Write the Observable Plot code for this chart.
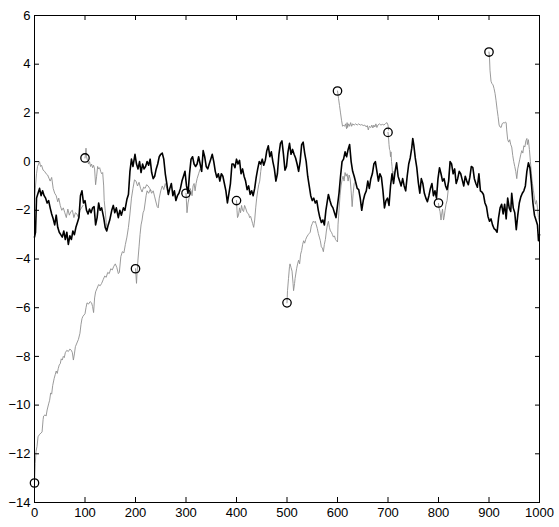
<!DOCTYPE html>
<html>
<head>
<meta charset="utf-8">
<script src="https://cdn.jsdelivr.net/npm/d3@7"></script>
<script src="https://cdn.jsdelivr.net/npm/@observablehq/plot@0.6"></script>
<style>
  html, body { margin: 0; padding: 0; background: white; }
</style>
</head>
<body>
<div id="chart"></div>
<script>
// Tick values
const xTicks = [0, 100, 200, 300, 400, 500, 600, 700, 800, 900, 1000];
const yTicks = [-14, -12, -10, -8, -6, -4, -2, 0, 2, 4, 6];

// Restart points (circles)
const circleX = [0, 100, 200, 300, 400, 500, 600, 700, 800, 900];
const circleY = [-13.2, 0.15, -4.4, -1.3, -1.6, -5.8, 2.9, 1.2, -1.7, 4.5];

// Main (black) series: [step, value]
const blackSeries = [
[0,-3.1],[2,-2.9],[4,-1.5],[7,-1.3],[10,-1.1],[13,-1.4],[16,-1.2],[19,-1.4],[22,-1.5],[25,-1.7],
[28,-1.6],[31,-1.9],[34,-2.15],[37,-2.35],[40,-2.6],[43,-2.2],[46,-2.7],[49,-2.9],[52,-3.0],[55,-3.1],
[58,-2.85],[61,-3.2],[64,-2.9],[67,-3.4],[70,-3.05],[73,-3.2],[76,-2.85],[79,-3.0],[82,-2.7],[85,-2.5],
[88,-2.3],[91,-1.4],[94,-1.2],[97,-1.7],[100,-1.6],[103,-2.0],[106,-2.15],[109,-1.95],[112,-2.1],[115,-1.9],
[118,-1.85],[121,-2.6],[124,-2.3],[127,-1.7],[130,-2.0],[133,-1.9],[137,-2.3],[140,-2.7],[143,-2.85],[146,-2.6],
[149,-2.4],[153,-2.0],[156,-1.8],[159,-2.1],[162,-1.9],[166,-2.3],[169,-2.0],[172,-2.2],[176,-1.9],[179,-2.0],
[183,-1.55],[186,-1.35],[189,-0.4],[192,0.1],[195,-0.2],[199,0.3],[202,-0.1],[205,-0.3],[208,0.0],[211,-0.45],
[214,-0.1],[217,-0.3],[220,-0.2],[223,0.0],[226,-0.15],[229,0.1],[232,-0.45],[235,-0.7],[238,-0.6],[241,-0.3],
[244,-0.1],[247,0.2],[250,0.3],[253,0.35],[256,0.1],[259,-0.5],[262,-0.9],[265,-1.35],[268,-1.1],[271,-0.9],
[274,-1.4],[277,-1.2],[280,-1.6],[283,-1.4],[286,-1.3],[289,-1.1],[292,-0.8],[295,-0.6],[298,-0.4],[301,-1.0],
[304,-1.3],[307,-0.5],[310,0.1],[313,0.2],[316,-0.1],[319,-0.2],[322,-0.1],[325,0.2],[328,-0.1],[331,-0.4],
[334,0.45],[337,0.2],[340,-0.2],[343,-0.3],[346,-0.1],[349,0.1],[352,0.3],[355,0.0],[358,-0.4],[361,-0.65],
[364,-0.5],[367,-0.8],[370,-0.5],[373,-0.6],[376,-0.9],[379,-1.2],[382,-1.7],[385,-1.3],[388,-0.9],[391,-0.1],
[394,-0.1],[397,-0.25],[400,0.1],[403,-0.1],[406,0.05],[409,-0.5],[412,-0.3],[415,-0.6],[418,-0.8],[421,-1.15],
[424,-1.0],[427,-1.35],[430,-1.2],[433,-1.4],[436,-1.1],[439,-0.65],[442,-0.3],[445,0.0],[448,-0.1],[451,0.1],
[454,-0.15],[457,0.05],[460,0.45],[463,0.65],[466,0.2],[469,0.4],[472,0.0],[475,-0.3],[478,-0.8],[481,-0.5],
[484,0.3],[487,0.75],[490,0.85],[493,0.3],[496,-0.35],[499,-0.2],[502,0.4],[505,0.75],[508,0.3],[511,0.5],
[514,0.3],[517,0.15],[520,-0.1],[523,-0.4],[526,0.0],[529,0.7],[532,0.8],[535,0.35],[538,0.0],[541,-0.6],
[544,-1.0],[547,-1.4],[550,-1.6],[553,-1.5],[556,-1.7],[559,-1.6],[562,-2.0],[565,-2.3],[568,-2.5],[571,-2.4],
[574,-2.6],[577,-2.0],[580,-1.6],[582,-1.35],[585,-1.6],[588,-1.8],[591,-1.9],[594,-2.1],[597,-2.3],[600,-1.8],
[603,-1.3],[606,-0.6],[609,0.0],[612,0.1],[615,0.4],[618,0.2],[621,0.5],[624,0.7],[627,0.0],[630,-0.4],
[633,-0.6],[636,-0.85],[639,-1.1],[642,-1.15],[645,-1.5],[648,-2.0],[651,-1.6],[654,-1.35],[657,-1.2],[660,-0.8],
[663,-1.1],[666,-0.7],[669,-0.5],[672,-0.1],[675,0.0],[678,-0.4],[681,-0.8],[684,-0.5],[687,-0.65],[690,-1.2],
[693,-1.9],[696,-1.6],[699,-1.5],[702,-1.8],[705,-1.0],[708,-0.5],[711,-0.9],[714,-0.4],[717,-0.05],[720,-0.6],
[723,-0.8],[726,-1.0],[729,-0.7],[732,-1.0],[735,-1.2],[738,-0.6],[741,-0.1],[744,0.15],[747,0.55],[749,0.95],
[751,0.7],[754,0.15],[757,-0.25],[760,-0.85],[763,-1.3],[766,-0.7],[769,-0.9],[772,-1.3],[775,-1.5],[778,-1.65],
[781,-1.4],[784,-1.1],[787,-0.9],[790,-1.4],[793,-1.2],[796,-1.5],[799,-0.7],[802,-0.25],[805,-0.5],[808,-0.8],
[811,-0.7],[814,-1.0],[817,-1.15],[820,-0.8],[823,0.0],[826,-0.1],[829,-0.5],[832,-0.3],[835,-0.9],[838,-0.7],
[841,-0.4],[844,-0.5],[847,-0.75],[850,-1.0],[853,-0.6],[856,-0.8],[859,-0.95],[862,-0.65],[865,-0.2],[868,-0.25],
[871,-0.7],[874,-0.9],[877,-1.05],[880,-0.5],[883,-1.2],[886,-1.25],[889,-1.35],[892,-1.7],[895,-1.85],[898,-2.25],
[901,-2.45],[904,-2.35],[907,-2.6],[910,-2.75],[913,-2.8],[916,-2.9],[919,-2.3],[922,-1.9],[925,-1.75],[928,-2.15],
[931,-1.75],[934,-2.35],[937,-1.5],[940,-1.9],[943,-2.05],[945,-1.3],[948,-1.9],[951,-2.1],[954,-2.8],[957,-2.2],
[960,-1.7],[963,-1.45],[966,-1.3],[969,-1.2],[972,-1.0],[975,-0.4],[978,-0.05],[981,-0.25],[984,-0.9],[987,-1.7],
[990,-2.2],[993,-2.4],[996,-2.6],[998,-3.25],[1000,-3.0]
];

// Gray restarted trajectories: [step, value]
const grayPre = [[0,-1.7],[2,-1.0],[4,-0.5],[6,-0.2],[8,-0.1],[10,0.0],[12,-0.2],[14,-0.15],[17,-0.35],[20,-0.4],[23,-0.5],[26,-0.55],[29,-0.7],[31,-0.8],[34,-0.65],[37,-1.1],[40,-1.3],[43,-1.4],[46,-1.65],[48,-1.5],[51,-1.8],[54,-2.0],[57,-1.9],[60,-2.1],[63,-2.3],[66,-1.95],[69,-2.2],[72,-2.05],[75,-2.0],[78,-2.3],[81,-2.1],[84,-2.15],[87,-2.3],[90,-2.0],[93,-1.9],[96,-1.8]];
const gray0 = [[0,-13.2],[1.5,-12.4],[3,-11.9],[5,-11.7],[7,-11.3],[10,-11.2],[13,-11.15],[15,-11.1],[17,-10.6],[18,-10.45],[21,-10.4],[23,-10.45],[25,-10.2],[28,-9.95],[30,-9.8],[32,-9.5],[34,-9.55],[36,-9.2],[39,-8.9],[41,-8.75],[43,-8.6],[45,-8.7],[47,-8.5],[49,-8.35],[51,-8.3],[53,-8.1],[55,-8.15],[57,-8.0],[59,-8.05],[61,-7.85],[64,-7.75],[67,-7.8],[70,-7.7],[73,-7.75],[75,-7.85],[77,-8.15],[79,-7.9],[81,-7.6],[84,-7.45],[87,-7.3],[90,-7.05],[92,-6.7],[94,-6.45],[96,-6.35],[98,-6.3],[100,-6.25],[102,-6.0],[104,-5.8],[107,-5.85],[110,-5.75],[113,-5.8],[115,-5.95],[117,-6.2],[119,-5.6],[121,-5.35],[124,-5.2],[127,-5.05],[130,-5.1],[133,-5.0],[136,-4.85],[139,-4.7],[142,-4.75],[145,-4.55],[148,-4.6],[151,-4.4],[154,-4.45],[157,-4.3],[160,-4.2],[163,-4.35],[166,-4.6],[168,-4.55],[171,-3.9],[174,-3.7],[177,-3.75],[180,-3.4],[183,-3.1],[186,-2.7],[189,-2.15],[192,-1.5],[195,-1.1],[198,-0.75],[201,-0.8],[204,-1.0],[207,-0.85],[210,-1.1],[213,-1.25],[216,-1.05],[219,-1.1],[222,-0.95],[225,-1.0],[228,-1.1],[231,-1.2]];
const gray100 = [[100,0.15],[101,0.3],[102,0.55],[103,0.2],[105,0.05],[107,-0.1],[109,0.0],[111,-0.2],[113,-0.1],[115,-0.25],[117,-0.15],[119,-0.3],[121,-0.95],[123,-0.6],[125,-0.2],[127,-0.3],[129,-0.25],[131,-0.4],[133,-0.5],[135,-0.45],[137,-1.0],[138,-1.6],[140,-2.0],[142,-2.5],[144,-2.8]];
const gray200 = [[200,-4.4],[201,-4.7],[202,-5.0],[203,-4.6],[205,-4.0],[207,-3.5],[209,-3.0],[211,-2.6],[213,-2.4],[215,-2.1],[217,-2.0],[219,-1.7],[221,-1.4],[223,-1.2],[226,-1.3],[229,-1.15],[232,-1.3],[235,-1.2],[238,-1.45],[241,-1.7],[243,-1.85],[245,-1.9],[247,-1.5],[250,-1.2],[253,-1.0],[256,-1.15],[259,-0.9],[262,-1.1],[265,-1.35]];
const gray300 = [[300,-1.3],[301,-1.7],[302,-2.1],[304,-1.7],[306,-1.5],[308,-1.1],[310,-1.2],[312,-1.4],[314,-1.0],[316,-0.9],[318,-1.2],[320,-0.9],[322,-0.7],[325,-0.5],[328,-0.3],[331,-0.4]];
const gray400 = [[400,-1.6],[401,-2.0],[402,-2.3],[404,-2.2],[406,-1.9],[408,-2.1],[410,-1.8],[412,-2.0],[414,-2.05],[416,-1.8],[418,-1.9],[421,-2.1],[424,-2.15],[426,-2.3],[428,-2.25],[430,-2.4],[432,-2.55],[434,-2.7],[436,-2.4],[438,-1.9],[440,-1.5],[442,-1.2],[444,-0.95],[446,-0.8],[448,-0.4],[450,-0.1],[452,0.0]];
const gray500 = [[500,-5.8],[501,-5.3],[503,-4.8],[505,-4.3],[506,-4.2],[508,-4.35],[510,-4.5],[512,-5.0],[513,-5.3],[515,-5.0],[516,-4.8],[519,-4.4],[521,-4.2],[523,-4.05],[525,-4.2],[527,-3.8],[529,-3.65],[531,-3.4],[533,-3.25],[535,-3.35],[537,-3.2],[539,-3.1],[542,-3.0],[544,-2.95],[546,-2.9],[548,-2.65],[550,-2.55],[552,-2.45],[554,-2.5],[556,-2.45],[558,-2.6],[560,-2.75],[562,-2.95],[564,-3.1],[566,-3.25],[568,-3.5],[570,-3.55],[572,-3.7],[574,-3.4],[576,-3.2],[578,-2.85],[580,-2.6],[582,-2.45],[584,-2.7],[586,-2.85],[588,-2.9],[590,-3.0],[592,-3.1],[594,-3.05],[596,-3.2],[598,-3.25],[600,-3.3],[601,-2.6],[603,-2.0],[605,-1.4],[607,-1.0],[609,-0.75],[611,-0.6],[613,-0.8],[615,-0.45],[617,-0.6],[619,-0.5],[621,-0.8],[623,-0.55],[625,-0.7],[627,-1.2],[629,-1.85],[631,-1.3],[633,-0.9],[635,-0.85]];
const gray600 = [[600,2.9],[602,2.6],[604,2.3],[606,2.0],[608,1.7],[610,1.45],[612,1.5],[614,1.45],[616,1.55],[618,1.35],[619,1.6],[620,1.4],[622,1.55],[624,1.45],[626,1.6],[628,1.45],[630,1.55],[633,1.5],[636,1.55],[639,1.5],[642,1.55],[645,1.5],[648,1.52],[651,1.48],[654,1.5],[657,1.42],[659,1.48],[661,1.3],[663,1.45],[666,1.4],[668,1.5],[670,1.38],[672,1.5],[674,1.42],[676,1.55],[678,1.4],[680,1.5],[683,1.55],[686,1.5],[689,1.53],[692,1.5],[695,1.56],[698,1.6],[700,1.5],[701,1.3]];
const gray700 = [[700,1.2],[701,1.0],[702,0.7],[703,0.5],[704,0.45],[705,0.2],[706,0.4],[707,0.0],[708,-0.2],[709,-0.5],[710,-0.4],[711,-0.9]];
const gray800 = [[800,-1.72],[801,-1.9],[803,-2.05],[805,-2.4],[806,-2.2],[808,-1.95],[810,-2.4],[811,-2.3],[813,-2.0],[815,-1.75],[817,-1.6],[819,-1.2],[821,-0.6],[823,0.0]];
const gray900 = [[900,4.5],[901,4.25],[902,3.75],[904,3.3],[906,3.2],[908,3.15],[910,3.0],[912,2.8],[914,2.5],[916,2.15],[918,1.85],[920,1.5],[922,1.42],[924,1.4],[926,1.55],[928,1.6],[930,1.58],[932,1.62],[934,1.6],[935,1.3],[937,0.9],[939,0.8],[941,0.9],[943,0.7],[945,0.6],[947,0.25],[949,0.0],[951,-0.2],[953,-0.4],[955,-0.7],[957,-0.3],[959,-0.1],[961,0.1],[963,0.3],[965,0.45],[967,0.35],[969,0.65],[971,0.6],[973,0.85],[975,0.95],[976,0.7],[978,0.9],[980,0.5],[982,0.0],[984,-0.5],[986,-0.9],[988,-1.2],[990,-1.5],[992,-1.75],[994,-1.6],[996,-1.9],[998,-2.3],[1000,-2.5]];

const grayTracks = [grayPre, gray0, gray100, gray200, gray300, gray400, gray500, gray600, gray700, gray800, gray900];
const grayData = grayTracks.flatMap((t, i) => t.map(([x, y]) => ({x, y, id: i})));
const blackData = blackSeries.map(([x, y]) => ({x, y}));
const circles = circleX.map((x, i) => ({x, y: circleY[i]}));

const TICK = 5; // inward tick length (px)

const chart = Plot.plot({
  width: 559,
  height: 527,
  marginLeft: 34,
  marginRight: 20,
  marginTop: 15,
  marginBottom: 25,
  x: {domain: [xTicks[0], xTicks[xTicks.length - 1]]},
  y: {domain: [yTicks[0], yTicks[yTicks.length - 1]]},
  style: {fontFamily: "'Liberation Sans', Arial, Helvetica, sans-serif", fontSize: "13px", color: "black", background: "white"},
  marks: [
    Plot.line(grayData, {x: "x", y: "y", z: "id", stroke: "#8f8f8f", strokeWidth: 0.9}),
    Plot.line(blackData, {x: "x", y: "y", stroke: "black", strokeWidth: 1.6}),
    Plot.dot(circles, {x: "x", y: "y", r: 4.2, stroke: "black", strokeWidth: 1.3, fill: "none"}),
    Plot.frame({stroke: "black", strokeWidth: 1}),
    Plot.axisX(xTicks, {anchor: "bottom", tickSize: 0, tickPadding: 5, label: null, fill: "black", tickFormat: d => String(d)}),
    Plot.axisY(yTicks, {anchor: "left", tickSize: 0, tickPadding: 4, label: null, fill: "black"}),
    Plot.axisX(xTicks, {anchor: "bottom", tickSize: TICK, dy: -TICK, fill: "none", label: null, stroke: "black"}),
    Plot.axisX(xTicks, {anchor: "top", tickSize: TICK, dy: TICK - 1, fill: "none", label: null, stroke: "black"}),
    Plot.axisY(yTicks, {anchor: "left", tickSize: TICK, dx: TICK, fill: "none", label: null, stroke: "black"}),
    Plot.axisY(yTicks, {anchor: "right", tickSize: TICK, dx: -TICK, fill: "none", label: null, stroke: "black"})
  ]
});
document.getElementById("chart").appendChild(chart);
</script>
</body>
</html>
